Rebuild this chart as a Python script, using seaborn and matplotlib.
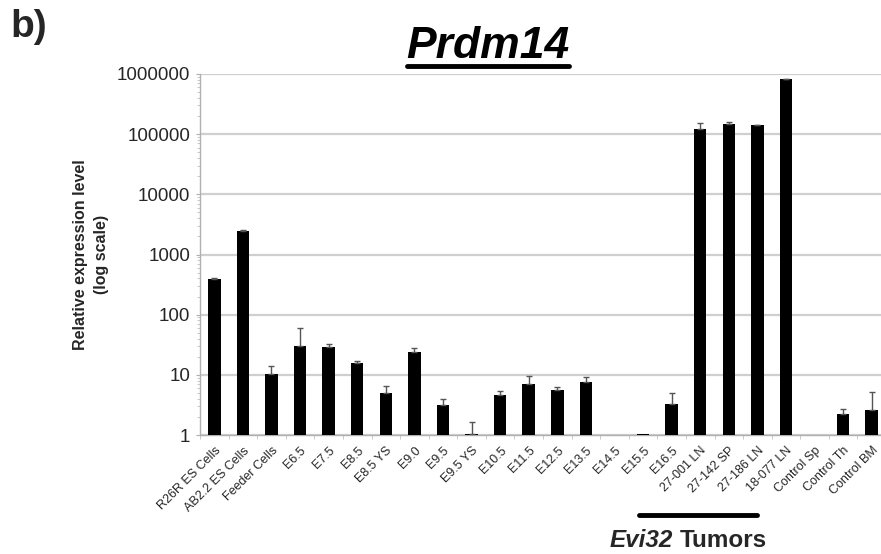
import numpy as np
import pandas as pd
import matplotlib
matplotlib.use("Agg")
import matplotlib.pyplot as plt
import seaborn as sns
from matplotlib.ticker import FixedLocator, FixedFormatter, LogLocator, NullFormatter
from matplotlib.lines import Line2D

categories = ["R26R ES Cells", "AB2.2 ES Cells", "Feeder Cells", "E6.5", "E7.5", "E8.5",
              "E8.5 YS", "E9.0", "E9.5", "E9.5 YS", "E10.5", "E11.5", "E12.5", "E13.5",
              "E14.5", "E15.5", "E16.5", "27-001 LN", "27-142 SP", "27-186 LN",
              "18-077 LN", "Control Sp", "Control Th", "Control BM"]
values = [390, 2500, 10.2, 30, 29.5, 16, 4.9, 23.7, 3.2, 1.02, 4.6, 7.1, 5.6, 7.5,
          1.0, 1.03, 3.3, 122000, 150000, 141000, 815000, 1.0, 2.25, 2.6]
upper = [400, 2550, 14.2, 60, 32, 16.8, 6.5, 27.9, 4.0, 1.63, 5.3, 9.6, 6.3, 9.2,
         1.0, 1.03, 5.0, 151000, 158000, 143000, 840000, 1.0, 2.7, 5.1]
ytick_vals = [1, 10, 100, 1000, 10000, 100000, 1000000]
ytick_labels = ["1", "10", "100", "1000", "10000", "100000", "1000000"]

df = pd.DataFrame({"sample": categories, "value": values, "upper": upper})

sns.set_style("white")
plt.rcParams["font.family"] = ["Liberation Sans", "DejaVu Sans"]

fig = plt.figure(figsize=(8.81, 5.54), dpi=100)
ax = fig.add_axes([200/881, 1-435/554, 686/881, (435-74)/554])

sns.barplot(data=df, x="sample", y="value", color="black", width=0.44,
            errorbar=None, ax=ax, zorder=3, saturation=1, edgecolor="black", linewidth=0)
ax.set_yscale("log")

xs = np.arange(len(categories))
err = np.array(upper) - np.array(values)
mask = err > 0
ax.errorbar(xs[mask], np.array(values)[mask], yerr=[np.zeros(mask.sum()), err[mask]],
            fmt="none", ecolor="#555555", elinewidth=1.0, capsize=2.5, capthick=1.0, zorder=4)

ax.set_ylim(1, 1000000)
ax.set_xlim(-0.5, len(categories) - 0.5)
ax.yaxis.set_major_locator(FixedLocator(ytick_vals))
ax.yaxis.set_major_formatter(FixedFormatter(ytick_labels))
ax.yaxis.set_minor_locator(LogLocator(base=10, subs=np.arange(2, 10)))
ax.yaxis.set_minor_formatter(NullFormatter())
ax.grid(axis="y", which="major", color="#cfcfcf", linewidth=1.6, zorder=0)
ax.set_axisbelow(True)

for s in ["top", "right"]:
    ax.spines[s].set_visible(False)
for s in ["left", "bottom"]:
    ax.spines[s].set_color("#b0b0b0")
    ax.spines[s].set_linewidth(1.0)

ax.tick_params(axis="y", which="major", length=3, color="#b0b0b0", labelsize=13.5, pad=4, left=True)
ax.tick_params(axis="y", which="minor", length=2, color="#c0c0c0", left=True)
ax.set_xticks(xs)
ax.set_xticklabels(categories, rotation=45, ha="right", rotation_mode="anchor", fontsize=9)
ax.tick_params(axis="x", which="major", length=0, pad=7)
ax.set_xticks(np.arange(-0.5, len(categories), 1), minor=True)
ax.tick_params(axis="x", which="minor", length=3, color="#c0c0c0", bottom=True)

ax.set_xlabel("")
ax.set_ylabel("Relative expression level\n(log scale)", fontsize=11.5, fontweight="bold",
              labelpad=6, linespacing=1.45)

fig.text(10/881, 1-37/554, "b)", fontsize=28, fontweight="bold", ha="left", va="baseline")
fig.text(488/881, 1-58/554, "Prdm14", fontsize=32, fontweight="bold", fontstyle="italic",
         ha="center", va="baseline", color="black")
fig.add_artist(Line2D([407/881, 569/881], [1-66/554, 1-66/554], color="black", lw=3.5))

fig.add_artist(Line2D([639/881, 757/881], [1-515/554, 1-515/554], color="black", lw=3.5))
fig.text(610/881, 1-547/554, "Evi32", fontsize=17.5, fontweight="bold", fontstyle="italic",
         ha="left", va="baseline")
fig.text(767/881, 1-547/554, "Tumors", fontsize=17.5, fontweight="bold", ha="right", va="baseline")

fig.savefig("out.png", dpi=100)
